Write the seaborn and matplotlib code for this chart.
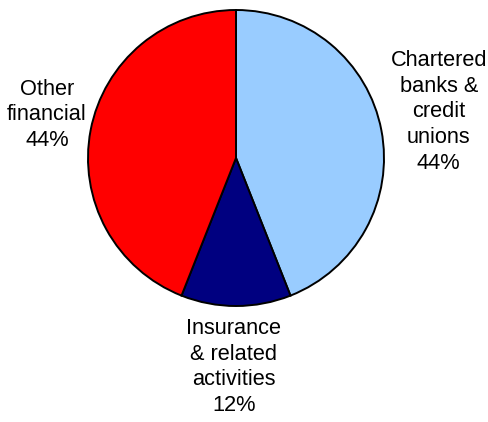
import matplotlib
matplotlib.use("Agg")
import matplotlib.pyplot as plt
import seaborn as sns

# Shares of the financial sector by industry group (percent)
categories = ["Chartered\nbanks &\ncredit\nunions", "Insurance\n& related\nactivities", "Other\nfinancial"]
shares = [44, 12, 44]
colors = ["#99CCFF", "#000080", "#FF0000"]

# Label anchor points, in units of the pie radius
label_xy = [(1.37, 0.311), (-0.014, -1.412), (-1.277, 0.291)]

sns.set_theme(style="white")
plt.rcParams["font.family"] = ["Liberation Sans", "DejaVu Sans"]

fig = plt.figure(figsize=(4.88, 4.22), dpi=100)
ax = fig.add_axes([0, 0, 1, 1])

ax.pie(
    shares,
    colors=colors,
    startangle=90,
    counterclock=False,
    radius=1.0,
    center=(0, 0),
    wedgeprops=dict(edgecolor="black", linewidth=1.4),
)

for name, value, (x, y) in zip(categories, shares, label_xy):
    ax.text(x, y, f"{name}\n{value}%", ha="center", va="center",
            fontsize=15.7, color="black", linespacing=1.3)

ax.set_xlim(-236 / 148, (488 - 236) / 148)
ax.set_ylim(-(422 - 158) / 148, 158 / 148)
ax.set_aspect("equal")
ax.axis("off")

fig.savefig("out.png", dpi=100, facecolor="white")
